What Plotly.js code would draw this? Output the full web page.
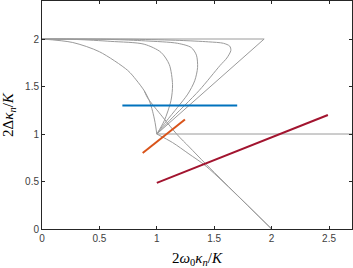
<!DOCTYPE html>
<html>
<head>
<meta charset="utf-8">
<script src="https://cdn.plot.ly/plotly-3.0.1.min.js"></script>
<style>html,body{margin:0;padding:0;background:#fff;}#chart{width:353px;height:268px;}</style>
</head>
<body>
<div id="chart"></div>
<script>
// Gray family of curves
const outerX = [0, 1.935, 1.0];
const outerY = [2, 2, 1.0];

const curveCX = [0, 0.8, 1.2, 1.45, 1.58, 1.635, 1.645, 1.61, 1.55, 1.37, 1.11, 1.0];
const curveCY = [2, 1.997, 1.985, 1.97, 1.955, 1.925, 1.88, 1.8, 1.72, 1.46, 1.14, 1.0];

const curveDX = [0, 0.6, 0.9, 1.18, 1.30, 1.345, 1.355, 1.33, 1.27, 1.18, 1.08, 1.0];
const curveDY = [2, 1.995, 1.98, 1.955, 1.91, 1.83, 1.70, 1.56, 1.42, 1.28, 1.13, 1.0];

const curveBX = [0, 0.3, 0.6, 0.89, 1.036, 1.109, 1.137, 1.123, 1.065, 1.0];
const curveBY = [2, 1.995, 1.975, 1.945, 1.86, 1.73, 1.52, 1.35, 1.14, 1.0];

const curveAX = [0, 0.268, 0.5, 0.746, 0.82, 0.89, 0.935, 0.963, 0.985, 1.0];
const curveAY = [2, 1.963, 1.866, 1.67, 1.57, 1.456, 1.35, 1.24, 1.12, 1.0];

const branchX = [0.89, 0.92, 1.05, 1.18, 1.283, 1.43, 2.0];
const branchY = [1.456, 1.38, 1.18, 0.99, 0.863, 0.68, 0.0];

const lowerX = [1.0, 1.137, 1.28, 1.43, 2.0];
const lowerY = [1.0, 0.91, 0.79, 0.66, 0.0];

const flatX = [1.0, 2.7];
const flatY = [1.0, 1.0];

// Coloured segments
const blueX = [0.7, 1.7];
const blueY = [1.3, 1.3];
const orangeX = [0.877, 1.245];
const orangeY = [0.80, 1.153];
const redX = [1.0, 2.49];
const redY = [0.486, 1.20];

const xTicks = [0, 0.5, 1, 1.5, 2, 2.5];
const xTickText = ['0', '0.5', '1', '1.5', '2', '2.5'];
const yTicks = [0, 0.5, 1, 1.5, 2];
const yTickText = ['0', '0.5', '1', '1.5', '2'];

const gray = '#9a9a9a';
function grayTrace(x, y, smooth) {
  return {x: x, y: y, mode: 'lines', type: 'scatter', hoverinfo: 'skip',
          line: {color: gray, width: 1, shape: smooth ? 'spline' : 'linear', smoothing: 0.8}};
}
const traces = [
  grayTrace(outerX, outerY, false),
  grayTrace(curveCX, curveCY, true),
  grayTrace(curveDX, curveDY, true),
  grayTrace(curveBX, curveBY, true),
  grayTrace(curveAX, curveAY, true),
  grayTrace(branchX, branchY, true),
  grayTrace(lowerX, lowerY, true),
  grayTrace(flatX, flatY, false),
  {x: blueX, y: blueY, mode: 'lines', line: {color: '#0072BD', width: 2}},
  {x: orangeX, y: orangeY, mode: 'lines', line: {color: '#D95319', width: 2}},
  {x: redX, y: redY, mode: 'lines', line: {color: '#A2142F', width: 2}}
];

const axisCommon = {
  showline: true, mirror: 'ticks', linecolor: '#262626', linewidth: 1,
  ticks: 'inside', ticklen: 3, tickcolor: '#262626', tickwidth: 1,
  showgrid: false, zeroline: false,
  tickfont: {family: 'Liberation Sans, Arial, sans-serif', size: 10, color: '#404040'}
};

const titleFont = {family: 'Liberation Serif, DejaVu Serif, serif', size: 15, color: '#000'};

const layout = {
  width: 353, height: 268,
  margin: {l: 42, r: 1, t: 1, b: 39},
  paper_bgcolor: '#fff', plot_bgcolor: '#fff',
  showlegend: false,
  xaxis: Object.assign({}, axisCommon, {
    range: [0, 2.7], tickvals: xTicks, ticktext: xTickText,
    title: {text: '2<i>ω</i><sub>0</sub><i>κ</i><sub><i>n</i></sub>/<i>K</i>', standoff: 9, font: titleFont}
  }),
  yaxis: Object.assign({}, axisCommon, {
    range: [0, 2.4], tickvals: yTicks, ticktext: yTickText,
    title: {text: '2Δ<i>κ</i><sub><i>n</i></sub>/<i>K</i>', standoff: 8, font: titleFont}
  })
};

Plotly.newPlot('chart', traces, layout, {staticPlot: true, displayModeBar: false});
</script>
</body>
</html>
